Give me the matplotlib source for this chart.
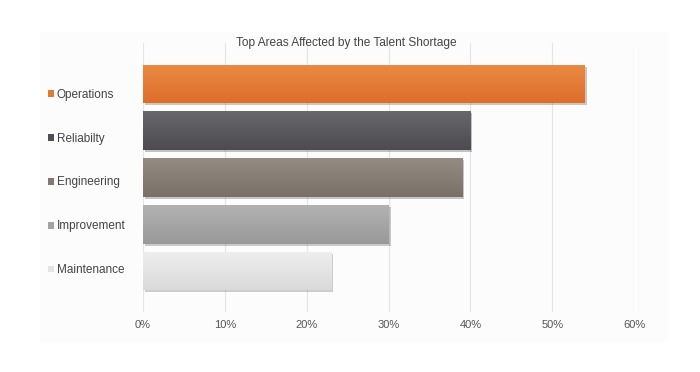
import numpy as np
import matplotlib.pyplot as plt
import matplotlib.patheffects as pe
from matplotlib.colors import LinearSegmentedColormap
from matplotlib.patches import Patch, Rectangle

plt.rcParams['font.family'] = ['Liberation Sans', 'DejaVu Sans']

# data
categories = ['Operations', 'Reliabilty', 'Engineering', 'Improvement', 'Maintenance']
values = [0.54, 0.40, 0.39, 0.30, 0.23]
top_colors = ['#ea8a43', '#68686c', '#948b83', '#b2b2b2', '#eeeeee']
bottom_colors = ['#dc6e2b', '#4c4c50', '#7a7068', '#999999', '#dadada']
legend_colors = ['#e07a35', '#4f4f53', '#84796f', '#a3a3a3', '#e4e4e4']
ticks = [0, 0.1, 0.2, 0.3, 0.4, 0.5, 0.6]

fig = plt.figure(figsize=(7, 3.72), dpi=100)
fig.patch.set_facecolor('white')

# faint panel behind the chart
fig.patches.append(Rectangle((40 / 700, 1 - 342 / 372), 628 / 700, 310 / 372,
                             transform=fig.transFigure, facecolor='#fcfcfc',
                             edgecolor='none', zorder=-5))

ax = fig.add_axes([143 / 700, 1 - 312 / 372, (634 - 143) / 700, (312 - 43) / 372])
ax.set_facecolor('none')

y = np.arange(len(categories))
bars = ax.barh(y, values, height=0.83, color=legend_colors, zorder=2)

# vertical gradient on each bar, plus a soft shadow
for bar, c_top, c_bot in zip(bars, top_colors, bottom_colors):
    bar.set_path_effects([pe.SimplePatchShadow(offset=(1.5, -1.5), alpha=0.25), pe.Normal()])
    cmap = LinearSegmentedColormap.from_list('g', [c_top, c_bot])
    x0, y0 = bar.get_x(), bar.get_y()
    w, h = bar.get_width(), bar.get_height()
    grad = np.linspace(0, 1, 64).reshape(-1, 1)
    im = ax.imshow(grad, cmap=cmap, aspect='auto', extent=(x0, x0 + w, y0 + h, y0),
                   zorder=3, interpolation='bicubic')
    im.set_clip_path(bar)

ax.set_xlim(0, 0.6)
ax.set_ylim(len(categories) - 1 + 0.877, -0.877)
ax.set_xticks(ticks)
ax.set_xticklabels([f'{int(round(t * 100))}%' for t in ticks])
ax.set_yticks([])
ax.tick_params(axis='x', length=0, pad=6, labelsize=8, labelcolor='#555555')
ax.grid(axis='x', color='#e4e4e4', linewidth=0.8, zorder=0)
for s in ax.spines.values():
    s.set_visible(False)

fig.text(346 / 700, 1 - 43 / 372, 'Top Areas Affected by the Talent Shortage',
         ha='center', va='center', fontsize=8.6, color='#444444')

handles = [Patch(facecolor=c, edgecolor='none') for c in legend_colors]
leg = fig.legend(handles, categories, loc='upper left', bbox_to_anchor=(43 / 700, 1 - 84 / 372),
                 frameon=False, fontsize=8.5, labelspacing=2.7, handlelength=0.5,
                 handleheight=0.5, handletextpad=0.25, borderaxespad=0)
for t in leg.get_texts():
    t.set_color('#444444')

fig.savefig('out.png', dpi=100)
